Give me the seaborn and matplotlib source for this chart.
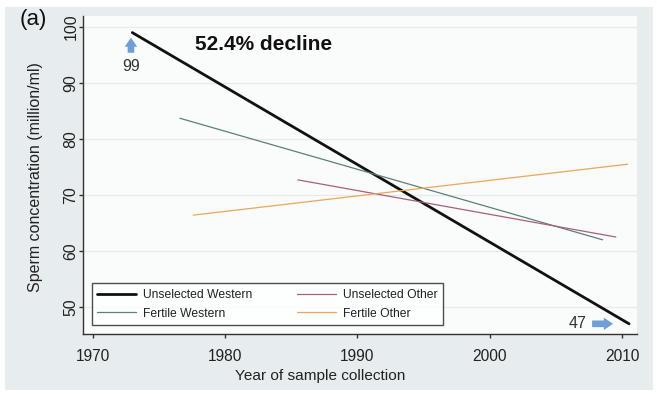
import matplotlib
matplotlib.use("Agg")
import matplotlib.pyplot as plt
import seaborn as sns
import pandas as pd
from matplotlib.patches import Rectangle

# ---- data ----
series_names = ["Unselected Western", "Fertile Western", "Unselected Other", "Fertile Other"]
unsel_western_years = [1973.0, 2010.5]
unsel_western_vals = [99.0, 47.0]
fertile_western_years = [1976.6, 2008.5]
fertile_western_vals = [83.7, 62.0]
unsel_other_years = [1985.5, 2009.5]
unsel_other_vals = [72.7, 62.5]
fertile_other_years = [1977.6, 2010.4]
fertile_other_vals = [66.4, 75.5]
x_ticks = [1970, 1980, 1990, 2000, 2010]
y_ticks = [50, 60, 70, 80, 90, 100]
start_label = "99"
end_label = "47"
decline_text = "52.4% decline"

rows = []
for name, xs, ys in zip(series_names,
                        [unsel_western_years, fertile_western_years, unsel_other_years, fertile_other_years],
                        [unsel_western_vals, fertile_western_vals, unsel_other_vals, fertile_other_vals]):
    for x, y in zip(xs, ys):
        rows.append({"series": name, "year": x, "value": y})
df = pd.DataFrame(rows)

sns.set_theme(style="white")
plt.rcParams["font.family"] = ["Liberation Sans", "DejaVu Sans"]

W, H = 657, 394
fig = plt.figure(figsize=(W / 100, H / 100), dpi=100, facecolor="white")
# gray outer panel
fig.patches.append(Rectangle((5 / W, 1 - 390 / H), (653 - 5) / W, (390 - 7) / H,
                             transform=fig.transFigure, facecolor="#e7ecef", edgecolor="none",
                             zorder=-10))

ax = fig.add_axes([83 / W, 1 - 334 / H, (637 - 83) / W, (334 - 16) / H])
ax.set_zorder(1)
ax.set_facecolor("#fafbfb")

palette = {"Unselected Western": "#111111", "Fertile Western": "#5d7f79",
           "Unselected Other": "#a8607c", "Fertile Other": "#e9a85a"}
sizes = {"Unselected Western": 2.0, "Fertile Western": 0.9,
         "Unselected Other": 0.9, "Fertile Other": 0.9}
sns.lineplot(data=df, x="year", y="value", hue="series", size="series",
             hue_order=series_names, size_order=series_names,
             palette=palette, sizes=sizes, ax=ax, legend=True)

ax.set_xlim(1969.28, 2011.1)
ax.set_ylim(45.18, 101.96)
ax.set_xticks(x_ticks)
ax.set_yticks(y_ticks)
ax.set_xticklabels([str(t) for t in x_ticks], fontsize=11.2, color="#222222")
ax.set_yticklabels([str(t) for t in y_ticks], fontsize=11.4, color="#222222",
                   rotation=90, va="center")
ax.tick_params(axis="x", direction="out", length=3.2, width=1, color="#333333", pad=7.5,
               bottom=True)
ax.tick_params(axis="y", direction="out", length=3.2, width=1, color="#333333", pad=0,
               left=True)
ax.grid(axis="y", color="#e6eaec", linewidth=0.9)
ax.set_axisbelow(True)
for s in ["top", "right"]:
    ax.spines[s].set_visible(False)
for s in ["left", "bottom"]:
    ax.spines[s].set_color("#333333")
    ax.spines[s].set_linewidth(1.0)

ax.set_xlabel("Year of sample collection", fontsize=11.1, color="#222222")
ax.set_ylabel("Sperm concentration (million/ml)", fontsize=11.5, color="#222222")
ax.xaxis.set_label_coords((320 - 83) / 554, (334 - 369) / 318)
ax.yaxis.set_label_coords((43 - 83) / 554, (334 - 177) / 318)

# legend
handles, labels = ax.get_legend_handles_labels()
hl = dict(zip(labels, handles))
leg = ax.legend([hl[n] for n in series_names], series_names,
                loc="lower left", bbox_to_anchor=((92 - 83) / 554, (334 - 325) / 318),
                ncol=2, fontsize=8.7, frameon=True, fancybox=False,
                edgecolor="#222222", handlelength=3.2, handletextpad=0.58,
                borderaxespad=0, borderpad=0.45, labelspacing=0.55, columnspacing=3.7)
leg.get_frame().set_linewidth(1.0)
leg.get_frame().set_facecolor("white")
for t in leg.get_texts():
    t.set_color("#222222")

# annotations
ax.text(1977.7, 96.8, decline_text, fontsize=15, fontweight="bold", color="#111111",
        ha="left", va="center")
arrow_col = "#6f9fd8"
astyle = "simple,head_width=0.75,head_length=0.55,tail_width=0.4"
ax.annotate("", xy=(1972.9, 98.6), xytext=(1972.9, 94.9),
            arrowprops=dict(arrowstyle=astyle, color=arrow_col, lw=0))
ax.text(1972.9, 92.9, start_label, fontsize=11.5, color="#333333", ha="center", va="center")
ax.annotate("", xy=(2009.5, 47.0), xytext=(2007.5, 47.0),
            arrowprops=dict(arrowstyle=astyle, color=arrow_col, lw=0))
ax.text(2006.6, 47.0, end_label, fontsize=11.5, color="#333333", ha="center", va="center")

fig.text(20 / W, 1 - 19 / H, "(a)", fontsize=16, color="#111111", ha="left", va="center")

fig.savefig("out.png", dpi=100, facecolor="white")
